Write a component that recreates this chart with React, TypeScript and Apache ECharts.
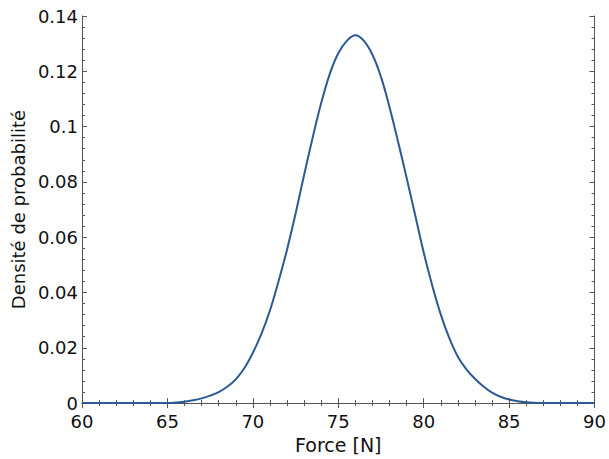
import React, { useEffect, useRef } from "react";
import * as echarts from "echarts";

const forceValues = [
  60, 60.5, 61, 61.5, 62, 62.5, 63, 63.5, 64, 64.5, 65, 65.5, 66, 66.5, 67, 67.5, 68, 68.5, 69, 69.5,
  70, 70.5, 71, 71.5, 72, 72.5, 73, 73.5, 74, 74.5, 75, 75.5, 76, 76.5, 77, 77.5, 78, 78.5, 79, 79.5,
  80, 80.5, 81, 81.5, 82, 82.5, 83, 83.5, 84, 84.5, 85, 85.5, 86, 86.5, 87, 87.5, 88, 88.5, 89, 89.5, 90,
];
const densityValues = [
  0, 0, 0, 0, 0, 0, 0, 0, 0, 0, 0, 0.0002, 0.0005, 0.001, 0.0017, 0.0027, 0.004, 0.0059, 0.0086, 0.0126,
  0.0182, 0.025, 0.0335, 0.044, 0.0555, 0.0685, 0.0825, 0.096, 0.1085, 0.119, 0.1265, 0.131, 0.133, 0.131, 0.126, 0.118, 0.107, 0.0945, 0.0815, 0.068,
  0.0545, 0.0425, 0.032, 0.0235, 0.0168, 0.0122, 0.0088, 0.006, 0.0038, 0.0023, 0.0013, 0.0007, 0.0003, 0.0001, 0, 0, 0, 0, 0, 0, 0,
];
const xTicks = { min: 60, max: 90, interval: 5 };
const yTicks = { min: 0, max: 0.14, interval: 0.02 };

const FONT = "DejaVu Sans";
const AXIS_COLOR = "#555555";
const LINE_COLOR = "#2b5b91";

export default function App() {
  const ref = useRef<HTMLDivElement>(null);
  useEffect(() => {
    if (!ref.current) return;
    const chart = echarts.init(ref.current, undefined, { renderer: "svg" });
    const tickCommon = {
      axisLine: { show: true, lineStyle: { color: AXIS_COLOR, width: 1 } },
      axisTick: { show: true, inside: true, length: 5, lineStyle: { color: AXIS_COLOR } },
      minorTick: { show: true, splitNumber: 5, length: 3, lineStyle: { color: AXIS_COLOR } },
      splitLine: { show: false },
    };
    const data = forceValues.map((f, i) => [f, densityValues[i]]);
    chart.setOption({
      animation: false,
      backgroundColor: "#ffffff",
      grid: { left: 82, right: 9, top: 16, bottom: 50, containLabel: false },
      xAxis: [
        {
          type: "value",
          ...xTicks,
          position: "bottom",
          ...tickCommon,
          axisLabel: { color: "#111", fontFamily: FONT, fontSize: 18, margin: 9 },
          name: "Force [N]",
          nameLocation: "middle",
          nameGap: 30,
          nameTextStyle: { color: "#111", fontFamily: FONT, fontSize: 19 },
        },
        {
          type: "value",
          ...xTicks,
          position: "top",
          ...tickCommon,
          axisLabel: { show: false },
        },
      ],
      yAxis: [
        {
          type: "value",
          ...yTicks,
          position: "left",
          ...tickCommon,
          axisLabel: {
            color: "#111",
            fontFamily: FONT,
            fontSize: 18,
            margin: 4,
            formatter: (v: number) => String(parseFloat(v.toFixed(2))),
          },
          name: "Densité de probabilité",
          nameLocation: "middle",
          nameGap: 55,
          nameTextStyle: { color: "#111", fontFamily: FONT, fontSize: 18 },
        },
        {
          type: "value",
          ...yTicks,
          position: "right",
          ...tickCommon,
          axisLabel: { show: false },
        },
      ],
      series: [
        {
          type: "line",
          data,
          showSymbol: false,
          smooth: 0.4,
          lineStyle: { color: LINE_COLOR, width: 2 },
          xAxisIndex: 0,
          yAxisIndex: 0,
        },
      ],
    });
    return () => chart.dispose();
  }, []);
  return <div ref={ref} style={{ width: 609, height: 459, position: "absolute", left: 0, top: 0 }} />;
}
